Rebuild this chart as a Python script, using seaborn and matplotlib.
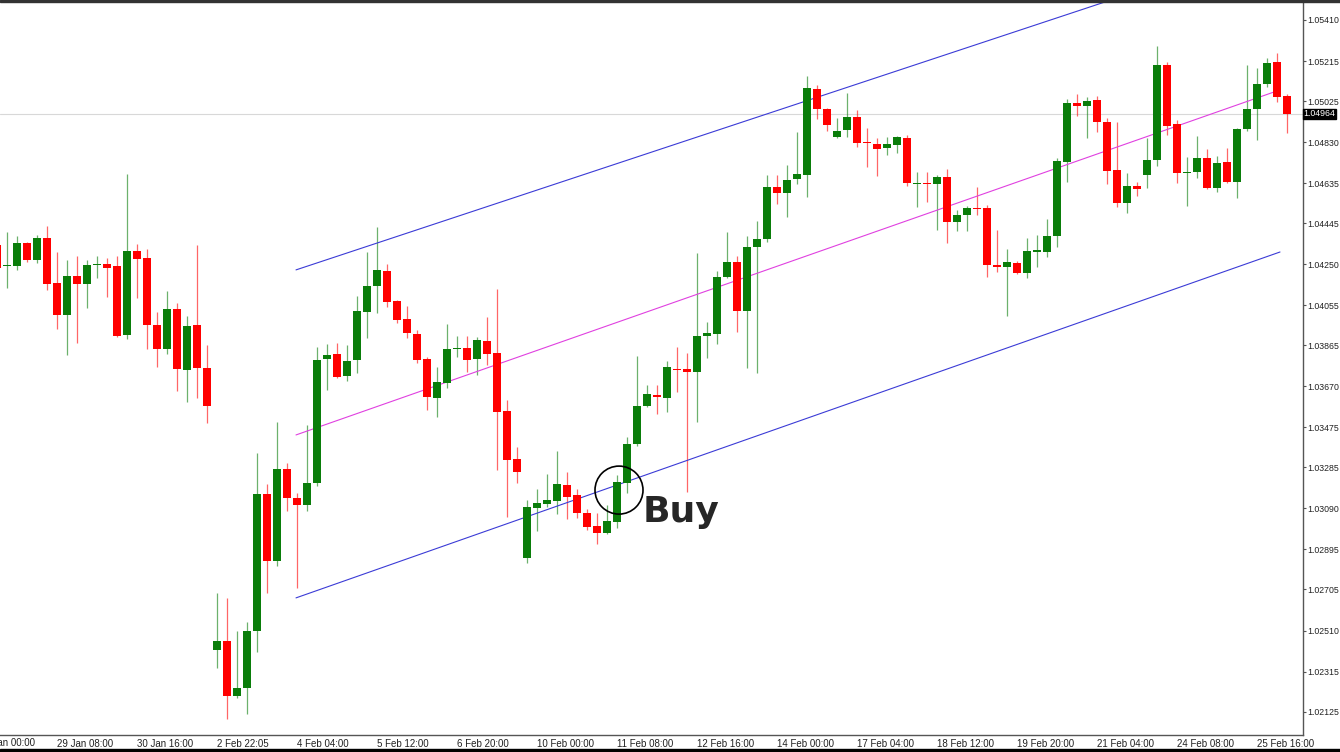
import numpy as np
import pandas as pd
import matplotlib
matplotlib.use("Agg")
import matplotlib.pyplot as plt
from matplotlib.patches import Ellipse, Rectangle
import seaborn as sns

# OHLC (one bar every 10 px)
opens = [1.04341, 1.04241, 1.04241, 1.04351, 1.04270, 1.04374, 1.04161, 1.04009, 1.04194, 1.04156,
         1.04246, 1.04251, 1.04241, 1.03914, 1.04313, 1.04279, 1.03961, 1.03847, 1.04037, 1.03747,
         1.03961, 1.03757, 1.02417, 1.02460, 1.02199, 1.02237, 1.02508, 1.03158, 1.02840, 1.03277,
         1.03139, 1.03106, 1.03211, 1.03800, 1.03823, 1.03719, 1.03795, 1.04023, 1.04146, 1.04218,
         1.04075, 1.03990, 1.03918, 1.03800, 1.03614, 1.03686, 1.03847, 1.03852, 1.03800, 1.03885,
         1.03828, 1.03553, 1.03325, 1.02854, 1.03092, 1.03111, 1.03125, 1.03201, 1.03154, 1.03068,
         1.03006, 1.02973, 1.03025, 1.03211, 1.03396, 1.03576, 1.03629, 1.03614, 1.03752, 1.03752,
         1.03738, 1.03909, 1.03918, 1.04189, 1.04260, 1.04028, 1.04332, 1.04370, 1.04617, 1.04588,
         1.04655, 1.04674, 1.05082, 1.04987, 1.04854, 1.04887, 1.04949, 1.04830, 1.04821, 1.04802,
         1.04816, 1.04849, 1.04631, 1.04636, 1.04631, 1.04664, 1.04450, 1.04484, 1.04517, 1.04517,
         1.04246, 1.04237, 1.04256, 1.04208, 1.04308, 1.04308, 1.04384, 1.04735, 1.05016, 1.05001,
         1.05030, 1.04925, 1.04697, 1.04541, 1.04621, 1.04674, 1.04745, 1.05196, 1.04916, 1.04683,
         1.04688, 1.04754, 1.04612, 1.04735, 1.04640, 1.04892, 1.04987, 1.05106, 1.05210, 1.05049]
highs = [1.04346, 1.04403, 1.04384, 1.04355, 1.04389, 1.04431, 1.04308, 1.04270, 1.04289, 1.04270,
         1.04289, 1.04279, 1.04289, 1.04678, 1.04346, 1.04322, 1.04023, 1.04123, 1.04066, 1.04004,
         1.04341, 1.03866, 1.02688, 1.02664, 1.02508, 1.02550, 1.03353, 1.03206, 1.03500, 1.03306,
         1.03163, 1.03486, 1.03857, 1.03871, 1.03876, 1.03866, 1.04099, 1.04308, 1.04427, 1.04251,
         1.04078, 1.04051, 1.03937, 1.03809, 1.03762, 1.03966, 1.03909, 1.03909, 1.03904, 1.03999,
         1.04132, 1.03605, 1.03382, 1.03130, 1.03182, 1.03253, 1.03363, 1.03263, 1.03182, 1.03087,
         1.03068, 1.03106, 1.03249, 1.03429, 1.03814, 1.03676, 1.03676, 1.03790, 1.03857, 1.03828,
         1.04303, 1.03975, 1.04218, 1.04403, 1.04289, 1.04384, 1.04455, 1.04674, 1.04674, 1.04721,
         1.04878, 1.05144, 1.05101, 1.04990, 1.04944, 1.05063, 1.04982, 1.04897, 1.04849, 1.04854,
         1.04859, 1.04864, 1.04688, 1.04688, 1.04674, 1.04702, 1.04507, 1.04526, 1.04617, 1.04531,
         1.04412, 1.04322, 1.04265, 1.04374, 1.04389, 1.04465, 1.04754, 1.05035, 1.05058, 1.05044,
         1.05049, 1.04944, 1.04925, 1.04683, 1.04640, 1.04849, 1.05286, 1.05210, 1.04935, 1.04759,
         1.04859, 1.04797, 1.04764, 1.04802, 1.04897, 1.05196, 1.05182, 1.05229, 1.05253, 1.05058]
lows = [1.04199, 1.04137, 1.04222, 1.04260, 1.04256, 1.04127, 1.03942, 1.03819, 1.03876, 1.04042,
        1.04184, 1.04094, 1.03905, 1.03895, 1.04089, 1.03847, 1.03762, 1.03823, 1.03648, 1.03595,
        1.03614, 1.03496, 1.02332, 1.02090, 1.02189, 1.02113, 1.02408, 1.02688, 1.02816, 1.03078,
        1.02712, 1.03078, 1.03196, 1.03652, 1.03709, 1.03695, 1.03733, 1.03899, 1.04018, 1.04047,
        1.03971, 1.03899, 1.03781, 1.03557, 1.03524, 1.03662, 1.03809, 1.03738, 1.03724, 1.03771,
        1.03272, 1.03049, 1.03211, 1.02831, 1.02983, 1.03097, 1.03063, 1.03040, 1.03044, 1.02987,
        1.02921, 1.02968, 1.02997, 1.03163, 1.03386, 1.03572, 1.03538, 1.03548, 1.03643, 1.03168,
        1.03500, 1.03804, 1.03871, 1.04185, 1.03928, 1.03757, 1.03733, 1.04355, 1.04536, 1.04474,
        1.04631, 1.04569, 1.04940, 1.04883, 1.04849, 1.04854, 1.04807, 1.04712, 1.04669, 1.04769,
        1.04778, 1.04621, 1.04522, 1.04545, 1.04412, 1.04351, 1.04408, 1.04408, 1.04484, 1.04189,
        1.04213, 1.04004, 1.04203, 1.04184, 1.04237, 1.04284, 1.04332, 1.04640, 1.04954, 1.04849,
        1.04878, 1.04631, 1.04522, 1.04493, 1.04574, 1.04612, 1.04716, 1.04864, 1.04636, 1.04527,
        1.04659, 1.04607, 1.04593, 1.04636, 1.04564, 1.04883, 1.04840, 1.05092, 1.05020, 1.04873]
closes = [1.04232, 1.04243, 1.04351, 1.04270, 1.04374, 1.04156, 1.04009, 1.04194, 1.04156, 1.04246,
          1.04251, 1.04232, 1.03909, 1.04313, 1.04275, 1.03961, 1.03847, 1.04037, 1.03752, 1.03956,
          1.03757, 1.03576, 1.02460, 1.02199, 1.02237, 1.02508, 1.03158, 1.02840, 1.03277, 1.03139,
          1.03106, 1.03211, 1.03795, 1.03819, 1.03714, 1.03790, 1.04028, 1.04146, 1.04222, 1.04070,
          1.03985, 1.03923, 1.03795, 1.03619, 1.03690, 1.03847, 1.03850, 1.03795, 1.03890, 1.03823,
          1.03548, 1.03320, 1.03263, 1.03097, 1.03116, 1.03130, 1.03206, 1.03144, 1.03068, 1.03002,
          1.02973, 1.03030, 1.03215, 1.03396, 1.03576, 1.03633, 1.03619, 1.03762, 1.03747, 1.03738,
          1.03909, 1.03923, 1.04189, 1.04260, 1.04028, 1.04332, 1.04370, 1.04617, 1.04588, 1.04650,
          1.04678, 1.05087, 1.04987, 1.04911, 1.04883, 1.04949, 1.04826, 1.04826, 1.04797, 1.04821,
          1.04854, 1.04636, 1.04636, 1.04631, 1.04664, 1.04450, 1.04484, 1.04517, 1.04512, 1.04246,
          1.04237, 1.04260, 1.04208, 1.04313, 1.04317, 1.04384, 1.04740, 1.05016, 1.05001, 1.05025,
          1.04925, 1.04693, 1.04541, 1.04621, 1.04607, 1.04745, 1.05196, 1.04906, 1.04683, 1.04688,
          1.04754, 1.04612, 1.04731, 1.04640, 1.04892, 1.04987, 1.05106, 1.05206, 1.05044, 1.04964]

# regression channel end points (bar index, price)
chan_x = [29.9, 128.3]
chan_mid = [1.03439, 1.05078]
chan_low = [1.02665, 1.04308]
chan_up = [1.04223, 1.05771]

price_ticks = [1.05410, 1.05215, 1.05025, 1.04830, 1.04635, 1.04445, 1.04250, 1.04055, 1.03865,
               1.03670, 1.03475, 1.03285, 1.03090, 1.02895, 1.02705, 1.02510, 1.02315, 1.02125]
time_labels = ["28 Jan 00:00", "29 Jan 08:00", "30 Jan 16:00", "2 Feb 22:05", "4 Feb 04:00",
               "5 Feb 12:00", "6 Feb 20:00", "10 Feb 00:00", "11 Feb 08:00", "12 Feb 16:00",
               "14 Feb 00:00", "17 Feb 04:00", "18 Feb 12:00", "19 Feb 20:00", "21 Feb 04:00",
               "24 Feb 08:00", "25 Feb 16:00"]
last_price = 1.04964

df = pd.DataFrame({"open": opens, "high": highs, "low": lows, "close": closes})
df["idx"] = np.arange(len(df))
df["up"] = df["close"] >= df["open"]

sns.set_style("white")
plt.rcParams["font.family"] = ["Liberation Sans", "DejaVu Sans"]

fig = plt.figure(figsize=(13.4, 7.52), dpi=100)
ax = fig.add_axes([0, 17 / 752, 1303 / 1340, 733 / 752])

green, red = "#0a7d0a", "#ff0000"
for up, col in [(True, green), (False, red)]:
    d = df[df["up"] == up]
    ax.vlines(d["idx"], d["low"], d["high"], color=col, lw=0.9, alpha=0.6, zorder=2)
    body = (d["close"] - d["open"]).abs().clip(lower=0.00004)
    ax.bar(d["idx"], body, bottom=d[["open", "close"]].min(axis=1), width=0.72,
           color=col, lw=0, zorder=3)

ax.axhline(last_price, color="#d8d8d8", lw=0.8, zorder=1)
sns.lineplot(x=chan_x, y=chan_up, ax=ax, color="#3b3bd6", lw=0.8)
sns.lineplot(x=chan_x, y=chan_low, ax=ax, color="#3b3bd6", lw=0.8)
sns.lineplot(x=chan_x, y=chan_mid, ax=ax, color="#e040e0", lw=0.8)

ax.add_patch(Ellipse((62.2, 1.03177), 4.8, 0.00228, fill=False, ec="black", lw=1.2, zorder=5))
ax.text(64.6, 1.03073, "Buy", fontsize=26, fontweight="bold", va="center", ha="left",
        family=["DejaVu Sans"], zorder=5)

ax.set_xlim(0.3, 130.6)
ax.set_ylim(1.020137, 1.054955)

for s in ["left", "top"]:
    ax.spines[s].set_visible(False)
for s in ["right", "bottom"]:
    ax.spines[s].set_color("#555555")
    ax.spines[s].set_linewidth(1)

ax.yaxis.tick_right()
ax.set_yticks(price_ticks)
ax.set_yticklabels([f"{p:.5f}" for p in price_ticks])
tick_pos = [-2 + 8 * k for k in range(len(time_labels))]
ax.set_xticks(tick_pos[1:])
ax.set_xticklabels(time_labels[1:], ha="left")
ax.text(tick_pos[0] + 0.2, -0.004, time_labels[0], transform=ax.get_xaxis_transform(),
        fontsize=7, va="top", ha="left", color="#222222")
ax.tick_params(axis="x", labelsize=7, length=2.5, width=0.8, color="#555555",
               labelcolor="#222222", direction="out", pad=0.5)
ax.tick_params(axis="y", labelsize=6.3, length=2, width=0.8, color="#555555",
               labelcolor="#222222", direction="out", pad=0.8)

ax.text(1.0005, last_price, f"{last_price:.5f}", transform=ax.get_yaxis_transform(),
        fontsize=6.3, color="white", va="center", ha="left",
        bbox=dict(boxstyle="square,pad=0.1", fc="black", ec="black"), zorder=6, clip_on=False)

fig.patches.append(Rectangle((0, 0), 1, 3 / 752, transform=fig.transFigure, color="black"))
fig.patches.append(Rectangle((0, 750 / 752), 1, 2 / 752, transform=fig.transFigure, color="#333333"))

fig.savefig("out.png", dpi=100)
